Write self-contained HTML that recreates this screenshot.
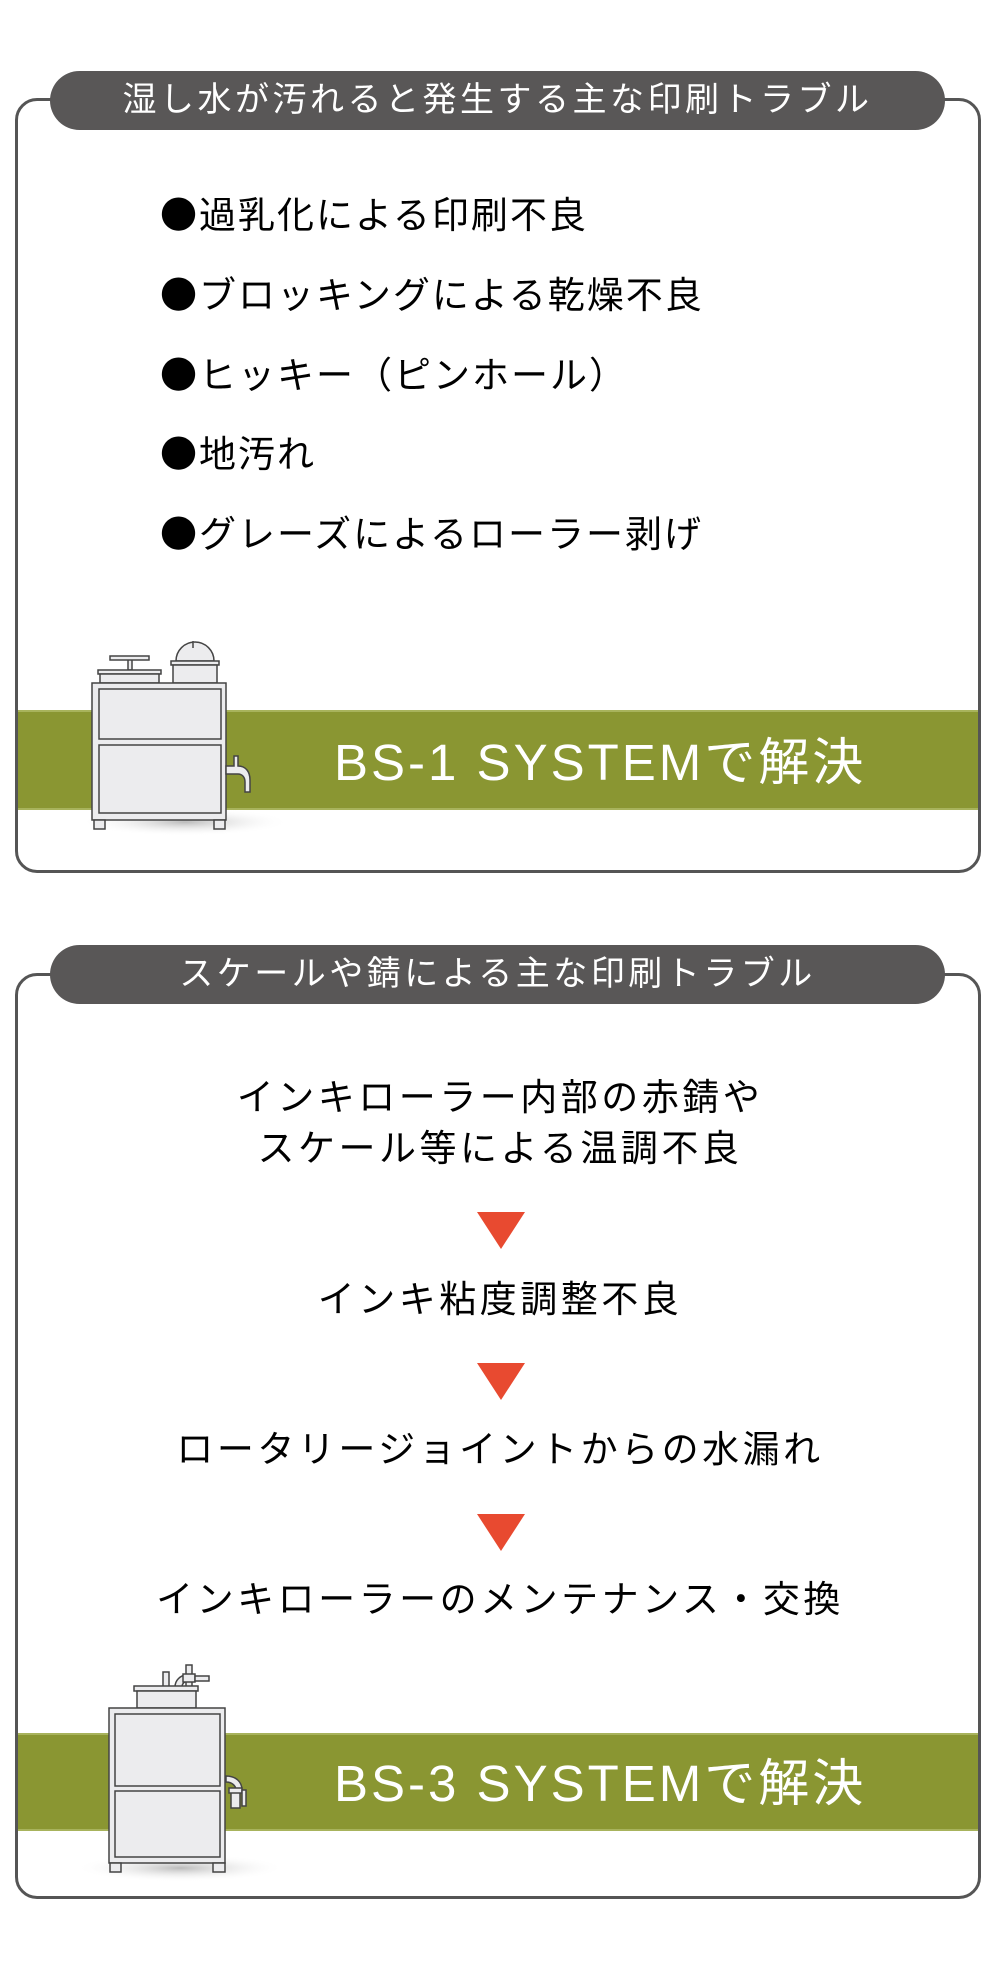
<!DOCTYPE html>
<html><head><meta charset="utf-8"><style>
body{margin:0;width:1000px;height:1969px;background:#fff;position:relative;overflow:hidden;font-family:"Liberation Sans","Noto Sans CJK JP",sans-serif;}
.box{position:absolute;left:15px;width:966px;border:3px solid #555;border-radius:22px;box-sizing:border-box;}
.pill{position:absolute;left:50px;width:895px;height:59px;background:#595757;border-radius:30px;color:#fff;font-size:34px;letter-spacing:3.5px;text-align:center;line-height:59px;white-space:nowrap;}
.band{position:absolute;left:18px;width:960px;background:#8a9632;border-top:2px solid #a8b35c;border-bottom:2px solid #a8b35c;box-sizing:border-box;}
.bs{position:absolute;left:334px;color:#fff;font-size:51px;letter-spacing:3px;white-space:nowrap;}
.bl{position:absolute;left:160px;font-size:37px;letter-spacing:2px;color:#000;white-space:nowrap;line-height:44px;font-family:"Noto Sans CJK JP",sans-serif;}
.t{position:absolute;left:0;width:1000px;text-align:center;font-size:37px;letter-spacing:3.5px;color:#000;line-height:44px;font-family:"Noto Sans CJK JP",sans-serif;}
.arr{position:absolute;left:477px;width:0;height:0;border-left:24px solid transparent;border-right:24px solid transparent;border-top:37px solid #e84a30;}
svg{position:absolute;}
</style></head><body>

<div class="box" style="top:98px;height:775px;"></div>
<div class="pill" style="top:71px;">湿し水が汚れると発生する主な印刷トラブル</div>
<div class="bl" style="top:190px;">●過乳化による印刷不良</div>
<div class="bl" style="top:270px;">●ブロッキングによる乾燥不良</div>
<div class="bl" style="top:350px;">●ヒッキー（ピンホール）</div>
<div class="bl" style="top:429px;">●地汚れ</div>
<div class="bl" style="top:509px;">●グレーズによるローラー剥げ</div>
<div class="band" style="top:710px;height:100px;"></div>
<div class="bs" style="top:721px;">BS-1 SYSTEMで解決</div>

<svg style="left:0;top:630px" width="320" height="210" viewBox="0 630 320 210">
<defs><radialGradient id="sh"><stop offset="0" stop-color="#bbb"/><stop offset="1" stop-color="#fff" stop-opacity="0"/></radialGradient></defs>
<ellipse cx="185" cy="822" rx="105" ry="14" fill="url(#sh)"/>
<g stroke="#444" stroke-width="1.5" fill="#ececee">
<rect x="128" y="658" width="4" height="12"/>
<rect x="110" y="656" width="39" height="4"/>
<rect x="98" y="670" width="63" height="4"/>
<rect x="100" y="674" width="59" height="9"/>
<path d="M193 641v7M176 661a18 18 0 0 1 38 0z"/>
<rect x="171" y="661" width="48" height="4"/>
<rect x="173" y="665" width="44" height="18"/>
<rect x="92" y="683" width="134" height="137"/>
<rect x="99" y="689" width="122" height="50"/>
<rect x="99" y="745" width="122" height="68"/>
<rect x="94" y="820" width="11" height="9"/>
<rect x="214" y="820" width="11" height="9"/>
<path d="M226 766h8v-10h4v10c8 0 12 6 12 14v12h-5v-10c0-5-3-8-7-8h-12z"/>
</g></svg>

<div class="box" style="top:973px;height:926px;"></div>
<div class="pill" style="top:945px;">スケールや錆による主な印刷トラブル</div>
<div class="t" style="top:1072px;">インキローラー内部の赤錆や</div>
<div class="t" style="top:1123px;">スケール等による温調不良</div>
<div class="arr" style="top:1212px;"></div>
<div class="t" style="top:1274px;">インキ粘度調整不良</div>
<div class="arr" style="top:1363px;"></div>
<div class="t" style="top:1424px;">ロータリージョイントからの水漏れ</div>
<div class="arr" style="top:1514px;"></div>
<div class="t" style="top:1574px;">インキローラーのメンテナンス・交換</div>
<div class="band" style="top:1733px;height:98px;"></div>
<div class="bs" style="top:1742px;">BS-3 SYSTEMで解決</div>

<svg style="left:0;top:1660px" width="320" height="225" viewBox="0 1660 320 225">
<ellipse cx="180" cy="1868" rx="105" ry="14" fill="url(#sh)"/>
<g stroke="#444" stroke-width="1.5" fill="#ececee">
<rect x="163" y="1672" width="6" height="15"/>
<path d="M175 1687a12 12 0 0 1 12-12h4v6h-3a6 6 0 0 0-6 6z"/>
<rect x="186" y="1665" width="6" height="22"/>
<rect x="183" y="1674" width="12" height="8"/>
<rect x="195" y="1676" width="14" height="5"/>
<rect x="134" y="1686" width="64" height="5"/>
<rect x="137" y="1691" width="59" height="17"/>
<rect x="109" y="1708" width="116" height="155"/>
<rect x="115" y="1714" width="105" height="72"/>
<rect x="115" y="1791" width="105" height="66"/>
<rect x="110" y="1863" width="11" height="9"/>
<rect x="213" y="1863" width="12" height="9"/>
<path d="M226 1776c10 0 16 6 16 14h-6c0-4-4-8-10-8z"/>
<rect x="231" y="1790" width="9" height="18"/>
<rect x="229" y="1788" width="13" height="5"/>
<rect x="242" y="1790" width="4" height="16"/>
</g></svg>
</body></html>
